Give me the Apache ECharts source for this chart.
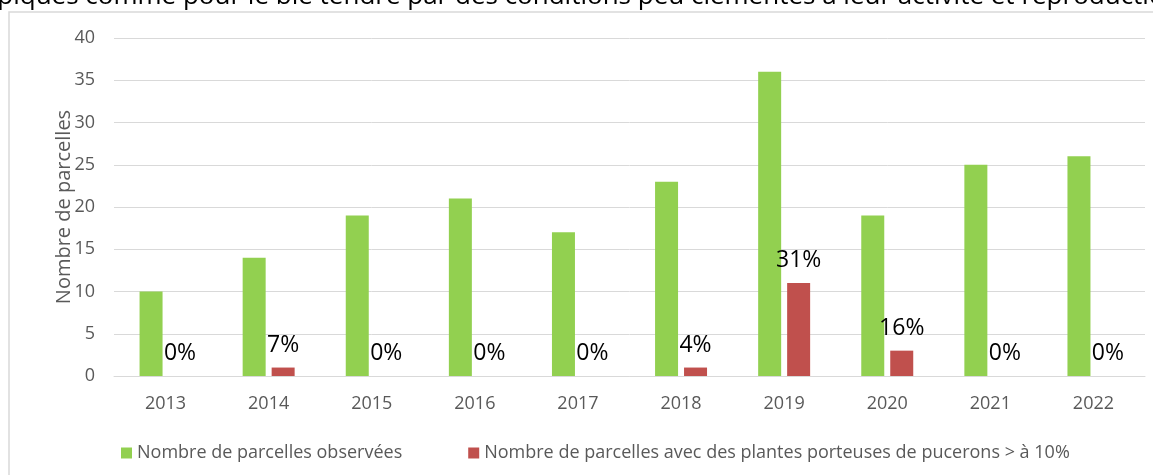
<!DOCTYPE html>
<html>
<head>
<meta charset="utf-8">
<script src="https://cdn.jsdelivr.net/npm/echarts@6/dist/echarts.min.js"></script>
<style>
  html, body { margin: 0; padding: 0; background: #fff; }
  #chart { width: 1153px; height: 475px; }
</style>
</head>
<body>
<div id="chart"></div>
<script>
// data
const years = ['2013', '2014', '2015', '2016', '2017', '2018', '2019', '2020', '2021', '2022'];
const observed = [10, 14, 19, 21, 17, 23, 36, 19, 25, 26];
const infested = [0, 1, 0, 0, 0, 1, 11, 3, 0, 0];
const yTicks = { min: 0, max: 40, interval: 5 };

const FONT = 'Open Sans';
const GREY = '#595959';

const chart = echarts.init(document.getElementById('chart'));

chart.setOption({
  animation: false,
  textStyle: { fontFamily: FONT },
  graphic: [
    {
      type: 'text',
      left: -25,
      top: -16,
      style: {
        text: 'typiques comme pour le blé tendre par des conditions peu clémentes à leur activité et reproduction',
        font: '26px "Open Sans"',
        fill: '#000'
      }
    },
    {
      type: 'rect',
      shape: { x: 9, y: 12, width: 1200, height: 500 },
      style: { fill: 'none', stroke: '#d9d9d9', lineWidth: 1.5 }
    }
  ],
  legend: {
    left: 116,
    top: 439,
    itemWidth: 11,
    itemHeight: 11,
    itemGap: 66,
    icon: 'rect',
    textStyle: { color: GREY, fontSize: 18, fontFamily: FONT },
    data: ['Nombre de parcelles observées', 'Nombre de parcelles avec des plantes porteuses de pucerons > à 10%']
  },
  grid: { left: 114, right: 8, top: 38, bottom: 99 },
  xAxis: {
    type: 'category',
    data: years,
    axisLine: { lineStyle: { color: '#d9d9d9' } },
    axisTick: { show: false },
    axisLabel: { color: GREY, fontSize: 18, margin: 19 }
  },
  yAxis: {
    type: 'value',
    min: yTicks.min,
    max: yTicks.max,
    interval: yTicks.interval,
    name: 'Nombre de parcelles',
    nameLocation: 'middle',
    nameGap: 40,
    nameMoveOverlap: false,
    nameTextStyle: { color: GREY, fontSize: 20 },
    axisLine: { show: false },
    axisTick: { show: false },
    axisLabel: { color: GREY, fontSize: 18, margin: 19 },
    splitLine: { lineStyle: { color: '#d9d9d9' } }
  },
  series: [
    {
      name: 'Nombre de parcelles observées',
      type: 'bar',
      data: observed,
      barWidth: 23,
      barGap: '26%',
      itemStyle: { color: '#92d050' }
    },
    {
      name: 'Nombre de parcelles avec des plantes porteuses de pucerons > à 10%',
      type: 'bar',
      data: infested,
      barWidth: 23,
      itemStyle: { color: '#c0504d' },
      label: {
        show: true,
        position: 'top',
        distance: 11,
        color: '#000',
        fontSize: 23,
        formatter: p => Math.round(100 * infested[p.dataIndex] / observed[p.dataIndex]) + '%'
      }
    }
  ]
});
</script>
</body>
</html>
